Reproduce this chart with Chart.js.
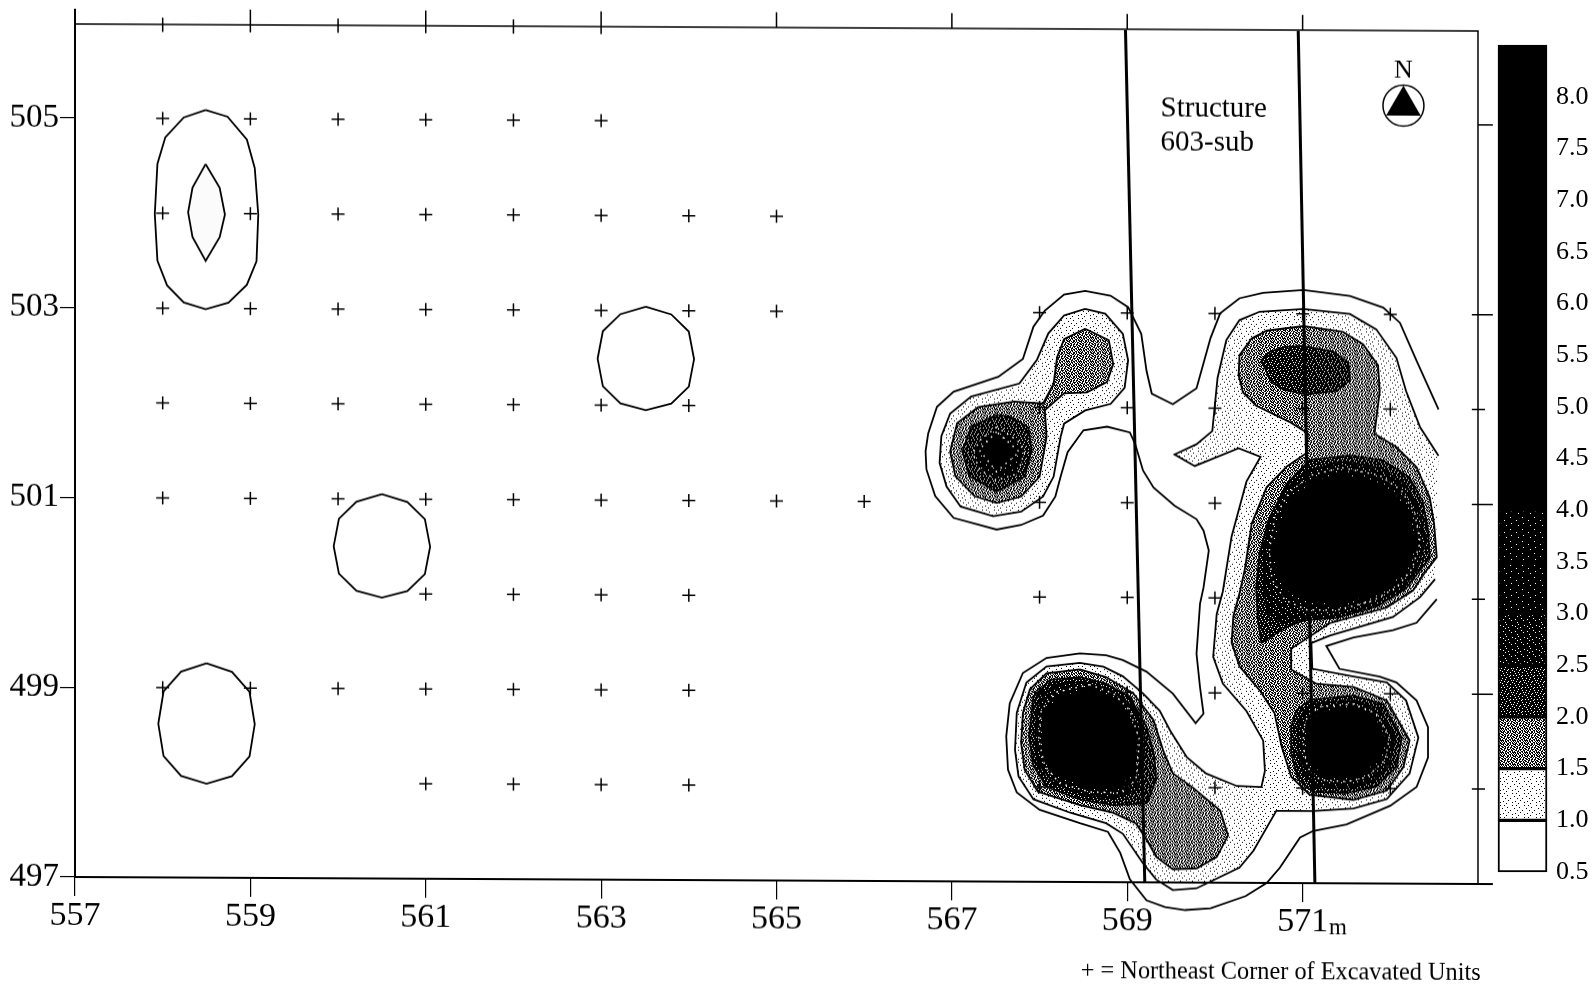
<!DOCTYPE html>
<html>
<head>
<meta charset="utf-8">
<title>Structure 603-sub contour map</title>
<script src="https://cdn.jsdelivr.net/npm/chart.js@4/dist/chart.umd.min.js"></script>
<style>
  html, body { margin: 0; padding: 0; background: #fff; }
  body { width: 1595px; height: 992px; overflow: hidden; position: relative; }
  #map { position: absolute; left: 0; top: 0; transform: skewY(0.286deg); transform-origin: 75px 877px; }
  #scaleBar { position: absolute; left: 1490px; top: 0; }
</style>
</head>
<body>
<canvas id="map" width="1595" height="992"></canvas>
<canvas id="scaleBar" width="105" height="992"></canvas>
<script>
// Tick labels
const eastTicks = [557, 559, 561, 563, 565, 567, 569, 571];
const northTicks = [497, 499, 501, 503, 505];
const scaleTicks = [0.5, 1.0, 1.5, 2.0, 2.5, 3.0, 3.5, 4.0, 4.5, 5.0, 5.5, 6.0, 6.5, 7.0, 7.5, 8.0];

// Scale bar bands
const bandLow = [0.5, 1.0, 1.5, 2.0, 2.5, 3.0, 3.5, 4.0];
const bandHigh = [1.0, 1.5, 2.0, 2.5, 3.0, 3.5, 4.0, 8.5];

// Excavated unit corners, one list of eastings per northing
const units505 = [558, 559, 560, 561, 562, 563];
const units504 = [558, 559, 560, 561, 562, 563, 564, 565];
const units503 = [558, 559, 560, 561, 562, 563, 564, 565, 568, 569, 570, 571, 572];
const units502 = [558, 559, 560, 561, 562, 563, 564, 568, 569, 570, 571, 572];
const units501 = [558, 559, 560, 561, 562, 563, 564, 565, 566, 568, 569, 570];
const units500 = [561, 562, 563, 564, 568, 569, 570];
const units499 = [558, 559, 560, 561, 562, 563, 564, 568, 569, 570, 571, 572];
const units498 = [561, 562, 563, 564, 568, 569, 570, 571, 572];

// Structure walls
const wallWest = [[568.98, 505.98], [569.2, 497]];
const wallEast = [[570.95, 505.98], [571.14, 497]];

// Isolated 0.5 and 1.0 contours in the west
const westTall05 = [[558.49,505.09],[558.74,505.02],[558.96,504.78],[559.05,504.48],[559.09,503.99],[559.07,503.5],[558.96,503.25],[558.75,503.06],[558.49,502.99],[558.24,503.06],[558.05,503.24],[557.94,503.5],[557.91,503.99],[557.94,504.52],[558.03,504.8],[558.24,505.01],[558.49,505.09]];
const westTall10 = [[558.49,504.52],[558.65,504.27],[558.71,503.99],[558.65,503.75],[558.49,503.5],[558.34,503.75],[558.29,504.01],[558.34,504.27],[558.49,504.52]];
const ringB05 = [[563.51,503.04],[563.8,502.96],[564,502.78],[564.06,502.49],[564,502.2],[563.8,502.02],[563.51,501.95],[563.22,502.02],[563.02,502.2],[562.96,502.49],[563.02,502.78],[563.22,502.96],[563.51,503.04]];
const ringC05 = [[560.5,501.05],[560.79,500.97],[560.99,500.79],[561.05,500.5],[560.99,500.21],[560.79,500.03],[560.5,499.96],[560.21,500.03],[560.01,500.21],[559.95,500.5],[560.01,500.79],[560.21,500.97],[560.5,501.05]];
const ringD05 = [[558.5,499.26],[558.79,499.17],[558.99,498.96],[559.05,498.62],[558.99,498.28],[558.79,498.07],[558.5,497.99],[558.21,498.07],[558.01,498.28],[557.95,498.62],[558.01,498.96],[558.21,499.17],[558.5,499.26]];

// Outer 0.5 contour of the eastern group, open at the east edge
const east05 = [[572.55,502],[572.3,502.51],[572.11,502.91],[571.92,503.07],[571.54,503.19],[571.01,503.25],[570.55,503.22],[570.28,503.16],[570.06,503],[569.95,502.74],[569.79,502.21],[569.52,502.04],[569.28,502.15],[569.22,502.39],[569.16,502.78],[569.01,503.06],[568.81,503.18],[568.52,503.23],[568.28,503.19],[568.06,503.02],[567.93,502.85],[567.81,502.51],[567.53,502.32],[567.02,502.16],[566.83,502],[566.73,501.72],[566.7,501.53],[566.71,501.34],[566.81,501.06],[567.02,500.83],[567.51,500.71],[567.79,500.76],[568.04,500.86],[568.18,501.06],[568.24,501.27],[568.32,501.53],[568.5,501.76],[568.77,501.8],[569.03,501.74],[569.09,501.62],[569.18,501.34],[569.3,501.16],[569.54,500.97],[569.79,500.83],[569.87,500.71],[569.93,500.5],[569.87,500.11],[569.83,499.94],[569.79,499.41],[569.83,499.06],[569.87,498.78],[569.78,498.68],[569.52,498.99],[569.22,499.22],[568.95,499.34],[568.76,499.39],[568.46,499.41],[568.08,499.36],[567.81,499.2],[567.66,498.88],[567.62,498.53],[567.64,498.18],[567.74,497.94],[568,497.76],[568.46,497.62],[568.78,497.53],[568.92,497.31],[569.03,497.03],[569.22,496.81],[569.43,496.74],[569.66,496.71],[569.95,496.73],[570.35,496.86],[570.59,497],[570.74,497.16],[570.97,497.48],[571.12,497.55],[571.5,497.62],[572,497.82],[572.3,498.02],[572.43,498.33],[572.43,498.65],[572.3,498.93],[572.07,499.12],[571.88,499.18],[571.42,499.26],[571.27,499.5],[571.58,499.59],[572.03,499.67],[572.3,499.75],[572.53,500]];

// 1.0 contours
const lobeWest10 = [[568.52,503.04],[568.28,502.97],[568.1,502.78],[567.97,502.5],[567.77,502.25],[567.22,502.11],[566.98,501.93],[566.88,501.69],[566.86,501.41],[566.94,501.16],[567.1,500.95],[567.47,500.85],[567.79,500.9],[568.04,501.06],[568.16,501.27],[568.24,501.69],[568.28,501.83],[568.52,501.97],[568.81,502.04],[568.97,502.21],[569.01,502.5],[568.95,502.78],[568.75,502.99],[568.52,503.04]];
const east10 = [[572.55,501.51],[572.34,501.81],[572.18,502.19],[572.07,502.54],[571.84,502.84],[571.54,503],[571.01,503.05],[570.51,503.02],[570.28,502.93],[570.13,502.72],[570.03,502.32],[569.97,501.76],[569.79,501.62],[569.54,501.51],[569.77,501.39],[570.27,501.58],[570.52,501.49],[570.36,501.23],[570.19,500.65],[570.09,500.07],[570.02,499.83],[569.98,499.38],[570.09,499.1],[570.36,498.81],[570.55,498.5],[570.57,498.18],[570.53,498.01],[570.25,498.02],[569.9,498.15],[569.68,498.32],[569.49,498.6],[569.37,498.81],[569.18,498.99],[568.95,499.17],[568.73,499.27],[568.46,499.31],[568.08,499.27],[567.85,499.1],[567.74,498.78],[567.72,498.39],[567.76,498.11],[567.93,497.87],[568.35,497.73],[568.76,497.62],[568.95,497.51],[569.18,497.2],[569.33,497.03],[569.52,496.92],[569.79,496.94],[570.28,497.16],[570.44,497.34],[570.7,497.76],[571.12,497.76],[571.58,497.79],[571.96,497.89],[572.22,498.16],[572.32,498.54],[572.18,498.93],[571.96,499.12],[571.58,499.18],[571.11,499.26],[571.1,499.53],[571.31,499.61],[572.03,499.81],[572.34,500.02],[572.51,500.21]];

// 1.5 contours
const lobeWest15 = [[568.52,502.83],[568.28,502.72],[568.2,502.53],[568.16,502.25],[568.04,502.04],[567.71,502.06],[567.3,502],[567.06,501.83],[566.98,501.53],[567.04,501.27],[567.26,501.06],[567.51,500.99],[567.79,501.06],[568,501.27],[568.08,501.69],[568.06,501.97],[568.28,502.15],[568.54,502.16],[568.77,502.27],[568.84,502.46],[568.79,502.71],[568.52,502.83]];
const east15 = [[571.06,501.74],[570.85,501.86],[570.47,502.03],[570.32,502.17],[570.27,502.35],[570.28,502.56],[570.42,502.74],[570.59,502.82],[571.01,502.87],[571.46,502.81],[571.69,502.68],[571.86,502.46],[571.88,502.19],[571.82,501.74],[572.07,501.6],[572.3,501.39],[572.45,501.07],[572.5,500.79],[572.53,500.44],[572.41,500.3],[572.26,500.09],[571.96,499.91],[571.31,499.74],[570.87,499.47],[570.87,499.25],[571.16,499.1],[571.58,499.07],[571.96,498.93],[572.22,498.51],[572.15,498.23],[571.96,497.98],[571.58,497.88],[571.08,497.93],[570.87,498.12],[570.76,498.44],[570.68,498.79],[570.51,499.03],[570.28,499.28],[570.19,499.53],[570.21,499.81],[570.28,500.05],[570.34,500.3],[570.42,500.79],[570.59,501.17],[570.82,501.39],[571.04,501.53],[571.06,501.74]];
const south15 = [[568.46,499.24],[568.08,499.2],[567.89,499.03],[567.81,498.78],[567.79,498.46],[567.83,498.18],[567.98,497.95],[568.46,497.81],[568.84,497.73],[569.1,497.62],[569.22,497.45],[569.33,497.27],[569.52,497.14],[569.79,497.15],[570.02,497.27],[570.15,497.5],[570.06,497.76],[569.75,498],[569.52,498.15],[569.41,498.39],[569.3,498.71],[569.07,498.99],[568.76,499.16],[568.46,499.24]];

// 2.0 contours
const lobeWest20 = [[567.51,501.92],[567.22,501.79],[567.12,501.53],[567.2,501.27],[567.51,501.11],[567.83,501.27],[567.91,501.55],[567.87,501.79],[567.67,501.9],[567.51,501.92]];
const northEast20 = [[570.53,502.51],[570.63,502.6],[570.8,502.65],[571.01,502.66],[571.35,502.6],[571.52,502.49],[571.54,502.3],[571.39,502.19],[571.04,502.15],[570.78,502.2],[570.63,502.3],[570.53,502.51]];
const bigBlob20 = [[570.53,499.53],[570.49,499.77],[570.47,500.12],[570.51,500.47],[570.61,500.82],[570.82,501.21],[571.08,501.46],[571.54,501.51],[571.92,501.46],[572.22,501.28],[572.37,501.03],[572.43,500.72],[572.45,500.44],[572.36,500.33],[572.18,500.11],[571.88,499.95],[571.39,499.82],[571.08,499.79],[570.82,499.7],[570.53,499.53]];
const south20 = [[568.46,499.16],[568.12,499.13],[567.93,498.95],[567.88,498.53],[567.93,498.22],[568.08,498],[568.46,497.87],[568.84,497.81],[569.22,497.83],[569.33,498.08],[569.31,498.32],[569.22,498.64],[569.03,498.95],[568.76,499.09],[568.46,499.16]];
const lowerEast20 = [[571.08,498.93],[571.58,498.98],[571.92,498.89],[572.13,498.54],[572.07,498.23],[571.84,498.02],[571.5,497.95],[571.12,497.96],[570.95,498.09],[570.87,498.37],[570.87,498.65],[570.93,498.82],[571.08,498.93]];

// 2.5 contours
const lobeWest25 = [[567.51,501.79],[567.32,501.65],[567.24,501.51],[567.32,501.34],[567.51,501.23],[567.75,501.3],[567.83,501.53],[567.75,501.65],[567.51,501.79]];
const bigBlob25 = [[571.45,501.44],[571.9,501.38],[572.18,501.2],[572.33,500.95],[572.4,500.6],[572.3,500.3],[572.12,500.08],[571.85,499.92],[571.4,499.8],[571.05,499.77],[570.75,499.75],[570.6,499.85],[570.56,500.1],[570.56,500.5],[570.62,500.85],[570.8,501.15],[571.05,501.35],[571.45,501.44]];
const south25 = [[568.5,499.11],[568.16,499.08],[567.98,498.88],[567.95,498.53],[567.98,498.25],[568.16,498.04],[568.5,497.92],[568.84,497.88],[569.1,497.97],[569.18,498.22],[569.2,498.53],[569.07,498.85],[568.8,499.02],[568.5,499.11]];
const lowerEast25 = [[571.14,498.89],[571.58,498.93],[571.88,498.84],[572.05,498.54],[571.99,498.26],[571.79,498.07],[571.5,498],[571.16,498.02],[571.01,498.16],[570.95,498.4],[570.95,498.65],[571.01,498.81],[571.14,498.89]];

// 3.0 contours
const lobeWest30 = [[567.51,501.74],[567.31,501.55],[567.51,501.32],[567.77,501.53],[567.51,501.74]];
const bigBlob30 = [[571.45,501.38],[571.88,501.3],[572.13,501.14],[572.28,500.9],[572.34,500.6],[572.25,500.32],[572.07,500.12],[571.8,499.98],[571.4,499.88],[571.05,499.88],[570.8,499.98],[570.65,500.2],[570.62,500.5],[570.68,500.85],[570.85,501.12],[571.1,501.3],[571.45,501.38]];
const south30 = [[568.57,499.08],[568.19,499],[568.02,498.81],[567.99,498.5],[568.06,498.22],[568.23,498.04],[568.57,497.95],[568.92,497.94],[569.1,498.08],[569.14,498.5],[569.03,498.81],[568.84,498.99],[568.57,499.08]];
const lowerEast30 = [[571.2,498.86],[571.58,498.89],[571.84,498.79],[571.99,498.53],[571.94,498.3],[571.73,498.12],[571.5,498.07],[571.2,498.09],[571.06,498.21],[571.01,498.42],[571.01,498.63],[571.06,498.77],[571.2,498.86]];

// 4.0 cores
const bigBlob40 = [[571.45,501.3],[571.85,501.22],[572.08,501.07],[572.22,500.85],[572.28,500.6],[572.2,500.35],[572.02,500.17],[571.75,500.03],[571.4,499.95],[571.08,499.97],[570.85,500.07],[570.72,500.25],[570.68,500.5],[570.75,500.8],[570.9,501.07],[571.15,501.24],[571.45,501.3]];
const south40 = [[568.57,499.02],[568.23,498.95],[568.06,498.78],[568.04,498.5],[568.1,498.25],[568.27,498.1],[568.57,498],[568.88,498],[569.07,498.15],[569.11,498.5],[569,498.78],[568.82,498.94],[568.57,499.02]];
const lowerEast35 = [[571.24,498.8],[571.58,498.84],[571.82,498.74],[571.94,498.53],[571.88,498.33],[571.69,498.17],[571.5,498.12],[571.24,498.14],[571.12,498.26],[571.06,498.44],[571.06,498.61],[571.12,498.74],[571.24,498.8]];

const northMark = [[572.15, 505.2]];

// Stipple tiles for the shaded levels
const lightTile = ['............', '..#.......#.', '............', '.....#......', '#...........', '............', '...#....#...', '............', '......#.....', '.#..........', '..........#.', '....#.......'];
const midTile = ['##.#.##.#..#', '.#..##.#.##.', '#.##..#..#.#', '##.#.##.##..', '..##.#..#.##', '#.#..###.#.#', '.##.#.#..##.', '#..##..##.#.', '##.#.##.#.##', '.#.##.#..#.#', '#.#.#..##.#.', '.##..##.#.##'];
const denseTile = ['####.###.###', '#.##########', '#####.######', '##.#####.##.', '#######.####', '####.#######', '.#######.###', '###.########', '#########.#.', '##.###.#####', '#####.####.#', '.###########'];
const darkTile = ['####.#######', '##########.#', '#.##########', '######.#####', '###.########', '############', '#######.####', '#.##########', '#########.##', '############', '###.########', '############'];
const speckTile = ['############', '########.###', '############', '############', '##.#########', '############', '############', '#########.##', '############', '####.#######', '############', '############'];

function makeFill(rows) {
    const tile = document.createElement('canvas');
    tile.width = rows[0].length;
    tile.height = rows.length;
    const c = tile.getContext('2d');
    c.fillStyle = '#fff';
    c.fillRect(0, 0, tile.width, tile.height);
    c.fillStyle = '#000';
    rows.forEach((row, y) => {
        [...row].forEach((cell, x) => {
            if (cell === '#') c.fillRect(x, y, 1, 1);
        });
    });
    return c.createPattern(tile, 'repeat');
}

const fillLight = makeFill(lightTile);
const fillMid = makeFill(midTile);
const fillDense = makeFill(denseTile);
const fillDark = makeFill(darkTile);
const fillSpeck = makeFill(speckTile);

const toPoints = pairs => pairs.map(p => ({ x: p[0], y: p[1] }));

// Short axis marks as broken line segments
function eastMarks(values, low, high) {
    return values.flatMap(v => [{ x: v, y: low }, { x: v, y: high }, { x: NaN, y: NaN }]);
}
function northMarks(values, low, high) {
    return values.flatMap(v => [{ x: low, y: v }, { x: high, y: v }, { x: NaN, y: NaN }]);
}

// Painted back to front; a third entry true gives the white dotted ring seen on the dark levels
const contourLayers = [
    [westTall05, false], [westTall10, '#fbfbfb'], [ringB05, false], [ringC05, false], [ringD05, false],
    [east05, false],
    [lobeWest10, fillLight], [east10, fillLight],
    [lobeWest15, fillMid], [east15, fillMid], [south15, fillMid],
    [lobeWest20, fillDense], [northEast20, fillDense], [bigBlob20, fillDense], [south20, fillDense], [lowerEast20, fillDense],
    [lobeWest25, fillSpeck, true], [bigBlob25, fillDark], [south25, fillDark], [lowerEast25, fillDark],
    [lobeWest30, '#000', true], [bigBlob30, fillSpeck, true], [south30, fillSpeck, true], [lowerEast30, fillSpeck, true],
    [bigBlob40, '#000'], [south40, '#000'], [lowerEast35, '#000']
];

const contourDatasets = contourLayers.map((layer, i) => ({
    data: toPoints(layer[0]),
    showLine: true,
    pointRadius: 0,
    tension: 0,
    borderColor: layer[2] ? '#fff' : '#000',
    borderDash: layer[2] ? [1.5, 5] : [],
    borderWidth: layer[2] ? 1.5 : 1.8,
    backgroundColor: layer[1] || 'transparent',
    fill: layer[1] ? 'shape' : false,
    clip: false,
    order: 100 - i
}));

const unitRows = [[505, units505], [504, units504], [503, units503], [502, units502], [501, units501], [500, units500], [499, units499], [498, units498]];

const lineStyle = { showLine: true, pointRadius: 0, borderColor: '#000', fill: false, clip: false, spanGaps: false };

const mapNotes = {
    id: 'mapNotes',
    afterDatasetsDraw(chart) {
        const { ctx, scales: { x, y } } = chart;
        const notes = [
            ['Structure', 569.38, 505.15, '29px', 'left'],
            ['603-sub', 569.38, 504.79, '29px', 'left'],
            ['N', 572.15, 505.57, '26px', 'center'],
            ['m', 571.30, 496.53, '23px', 'left'],
            ['+ = Northeast Corner of Excavated Units', 568.47, 496.06, '24.3px', 'left']
        ];
        ctx.save();
        ctx.fillStyle = '#000';
        ctx.textBaseline = 'middle';
        notes.forEach(n => {
            ctx.font = n[3] + ' "Liberation Serif"';
            ctx.textAlign = n[4];
            ctx.fillText(n[0], x.getPixelForValue(n[1]), y.getPixelForValue(n[2]));
        });
        ctx.restore();
    }
};

new Chart(document.getElementById('map'), {
    type: 'scatter',
    data: {
        datasets: [
            ...contourDatasets,
            {
                // Excavated unit corners
                data: unitRows.flatMap(r => r[1].map(e => ({ x: e, y: r[0] }))),
                pointStyle: 'cross',
                pointRadius: 6.5,
                pointBorderWidth: 1.5,
                pointBorderColor: '#000',
                clip: false,
                order: 5
            },
            { ...lineStyle, data: toPoints(wallWest), borderWidth: 3, order: 4 },
            { ...lineStyle, data: toPoints(wallEast), borderWidth: 3, order: 4 },
            // Frame
            { ...lineStyle, data: [{ x: 557, y: 506.15 }, { x: 557, y: 497 }, { x: 573.17, y: 497 }], borderWidth: 2, order: 3 },
            { ...lineStyle, data: [{ x: 557, y: 505.99 }, { x: 573, y: 505.99 }, { x: 573, y: 497 }], borderWidth: 1.5, order: 3 },
            // Edge marks
            { ...lineStyle, data: eastMarks([559, 561, 563], 505.91, 506.15), borderWidth: 1.5, order: 3 },
            { ...lineStyle, data: eastMarks([558, 560, 562], 505.91, 506.06), borderWidth: 1.5, order: 3 },
            { ...lineStyle, data: eastMarks([565, 567, 569, 571], 505.99, 506.15), borderWidth: 1.5, order: 3 },
            { ...lineStyle, data: northMarks([503, 501, 499], 572.93, 573.17), borderWidth: 1.5, order: 3 },
            { ...lineStyle, data: northMarks([505], 573, 573.17), borderWidth: 1.5, order: 3 },
            { ...lineStyle, data: northMarks([502, 500, 498], 572.93, 573.08), borderWidth: 1.5, order: 3 },
            {
                data: toPoints(northMark),
                pointStyle: 'triangle',
                pointRadius: 20,
                pointBackgroundColor: '#000',
                pointBorderWidth: 0,
                clip: false,
                order: 2
            },
            {
                data: toPoints(northMark),
                pointStyle: 'circle',
                pointRadius: 20.5,
                pointBackgroundColor: '#fff',
                pointBorderColor: '#000',
                pointBorderWidth: 1.5,
                clip: false,
                order: 2.5
            }
        ]
    },
    options: {
        responsive: false,
        animation: false,
        events: [],
        layout: { padding: { left: 0, top: 23, right: 117, bottom: 0 } },
        plugins: { legend: { display: false }, tooltip: { enabled: false } },
        scales: {
            x: {
                type: 'linear',
                min: 557,
                max: 573,
                afterBuildTicks: axis => { axis.ticks = eastTicks.map(v => ({ value: v })); },
                afterFit: axis => { axis.height = 115; },
                grid: { drawOnChartArea: false, tickLength: 19, color: '#000', lineWidth: 1.2 },
                border: { display: false },
                ticks: {
                    autoSkip: false,
                    maxRotation: 0,
                    padding: 0,
                    color: '#000',
                    font: { family: '"Liberation Serif"', size: 34 }
                }
            },
            y: {
                type: 'linear',
                min: 497,
                max: 506,
                afterBuildTicks: axis => { axis.ticks = northTicks.map(v => ({ value: v })); },
                afterFit: axis => { axis.width = 75; },
                grid: { drawOnChartArea: false, tickLength: 15, color: '#000', lineWidth: 1.2 },
                border: { display: false },
                ticks: {
                    autoSkip: false,
                    padding: 1,
                    color: '#000',
                    font: { family: '"Liberation Serif"', size: 33 }
                }
            }
        }
    },
    plugins: [mapNotes]
});

const bandFills = ['#fff', fillLight, fillMid, fillDense, fillDark, fillSpeck, fillSpeck, '#000'];

new Chart(document.getElementById('scaleBar'), {
    type: 'bar',
    data: {
        labels: [''],
        datasets: bandLow.map((low, i) => ({
            data: [[low, bandHigh[i]]],
            grouped: false,
            backgroundColor: bandFills[i],
            borderColor: '#000',
            borderWidth: 2,
            borderSkipped: false,
            barPercentage: 1,
            categoryPercentage: 1,
            clip: false
        }))
    },
    options: {
        responsive: false,
        animation: false,
        events: [],
        layout: { padding: { left: 8, top: 45, right: 0, bottom: 120 } },
        plugins: { legend: { display: false }, tooltip: { enabled: false } },
        scales: {
            x: { display: false },
            y: {
                position: 'right',
                min: 0.5,
                max: 8.5,
                afterBuildTicks: axis => { axis.ticks = scaleTicks.map(v => ({ value: v })); },
                afterFit: axis => { axis.width = 48; },
                grid: { display: false, drawTicks: false },
                border: { display: false },
                ticks: {
                    autoSkip: false,
                    padding: 9,
                    color: '#000',
                    font: { family: '"Liberation Serif"', size: 26 },
                    callback: v => v.toFixed(1)
                }
            }
        }
    }
});
</script>
</body>
</html>
